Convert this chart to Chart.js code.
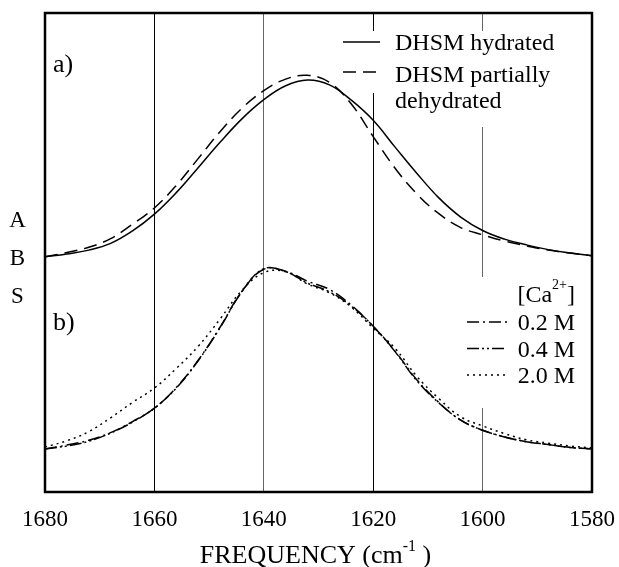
<!DOCTYPE html>
<html>
<head>
<meta charset="utf-8">
<script src="https://cdn.jsdelivr.net/npm/chart.js@4.4.1/dist/chart.umd.min.js"></script>
<style>
html, body { margin: 0; padding: 0; background: #fff; }
</style>
</head>
<body>
<canvas id="ir" width="619" height="567"></canvas>
<script>
// wavenumber samples (cm-1), every 4 cm-1
var freq = [1680, 1676, 1672, 1668, 1664, 1660, 1656, 1652, 1648, 1644, 1640, 1636, 1632,
            1628, 1624, 1620, 1616, 1612, 1608, 1604, 1600, 1596, 1592, 1588, 1584, 1580];

// a) amide I band, arbitrary absorbance units (0-100 over the plot height)
var hydrated   = [49.1, 49.7, 50.5, 51.9, 54.5, 58.0, 62.5, 67.7, 73.0, 77.9, 81.9, 84.8, 86.0,
                  85.0, 81.8, 77.6, 72.0, 66.5, 61.4, 57.4, 54.6, 52.8, 51.6, 50.6, 49.9, 49.3];
var dehydrated = [49.1, 50.0, 51.1, 52.9, 55.9, 59.3, 64.0, 69.6, 75.2, 80.1, 83.8, 86.2, 87.0,
                  85.5, 81.0, 74.2, 67.6, 62.2, 58.1, 55.2, 53.7, 52.4, 51.4, 50.5, 49.9, 49.3];

// b) with calcium
var ca02 = [9.0, 9.8, 10.8, 12.4, 14.7, 17.5, 21.8, 27.5, 34.4, 41.9, 46.5, 46.1, 44.0,
            42.3, 39.0, 34.6, 29.4, 23.4, 18.7, 15.0, 12.9, 11.5, 10.5, 9.9, 9.3, 9.0];
var ca04 = [9.0, 9.6, 10.6, 12.3, 14.6, 17.5, 21.7, 27.4, 34.3, 41.8, 46.6, 46.0, 43.6,
            41.8, 38.8, 34.6, 29.3, 23.2, 18.6, 15.0, 12.9, 11.5, 10.5, 9.9, 9.3, 9.0];
var ca20 = [9.4, 10.7, 12.6, 15.5, 18.7, 21.7, 25.8, 30.4, 36.1, 42.1, 45.8, 46.0, 43.4,
            41.6, 38.6, 34.2, 30.0, 24.1, 19.5, 15.7, 13.8, 12.2, 10.9, 10.2, 9.6, 9.2];

var xTicks = [1680, 1660, 1640, 1620, 1600, 1580];
var serif = "'Liberation Serif', 'Times New Roman', serif";

function pts(ys) {
  return freq.map(function (f, i) { return { x: f, y: ys[i] }; });
}
function curve(label, ys, dash) {
  return {
    label: label, data: pts(ys), borderColor: '#000', borderWidth: 1.5,
    borderDash: dash, pointRadius: 0, fill: false, tension: 0.4
  };
}

// draw text pieces in a row, some of them raised (superscripts)
function richText(ctx, parts, x, y, align) {
  var w = 0;
  parts.forEach(function (p) { ctx.font = p[1] + 'px ' + serif; w += ctx.measureText(p[0]).width; });
  var cx = align === 'center' ? x - w / 2 : (align === 'right' ? x - w : x);
  ctx.textAlign = 'left';
  parts.forEach(function (p) {
    ctx.font = p[1] + 'px ' + serif;
    ctx.fillText(p[0], cx, y + p[2]);
    cx += ctx.measureText(p[0]).width;
  });
}

function symbol(ctx, ds, x1, x2, y) {
  ctx.save();
  ctx.strokeStyle = '#000';
  ctx.lineWidth = 1.5;
  ctx.setLineDash(ds.borderDash || []);
  ctx.beginPath();
  ctx.moveTo(x1, y);
  ctx.lineTo(x2, y);
  ctx.stroke();
  ctx.restore();
}

var decor = {
  id: 'decor',
  beforeDatasetsDraw: function (chart) {
    var ctx = chart.ctx, ds = chart.data.datasets;
    ctx.save();
    // legend backgrounds hide the grid lines behind them
    ctx.fillStyle = '#fff';
    ctx.fillRect(338, 31, 48, 62);
    ctx.fillRect(388, 31, 178, 96);
    ctx.fillRect(460, 277, 120, 131);

    ctx.fillStyle = '#000';
    ctx.textBaseline = 'alphabetic';

    // legend a)
    symbol(ctx, ds[0], 343, 380, 42);
    symbol(ctx, ds[1], 343, 380, 72);
    ctx.font = '24px ' + serif;
    ctx.textAlign = 'left';
    ctx.fillText('DHSM hydrated', 395, 50);
    ctx.fillText('DHSM partially', 395, 82);
    ctx.fillText('dehydrated', 395, 108);

    // legend b)
    richText(ctx, [['[Ca', 24, 0], ['2+', 14, -13], [']', 24, 0]], 575, 302, 'right');
    [2, 3, 4].forEach(function (k, i) {
      symbol(ctx, ds[k], 467, 507, 322 + i * 26.5);
      ctx.font = '24px ' + serif;
      ctx.textAlign = 'right';
      ctx.fillText(ds[k].label, 575, 330 + i * 26.5);
    });

    // panel labels
    ctx.font = '26px ' + serif;
    ctx.textAlign = 'left';
    ctx.fillText('a)', 53, 72);
    ctx.fillText('b)', 53, 330);
    ctx.restore();
  },
  afterDraw: function (chart) {
    var ctx = chart.ctx, ca = chart.chartArea;
    ctx.save();
    ctx.strokeStyle = '#000';
    ctx.lineWidth = 2.5;
    ctx.strokeRect(ca.left, ca.top, ca.right - ca.left, ca.bottom - ca.top);

    ctx.fillStyle = '#000';
    ctx.textBaseline = 'alphabetic';
    ctx.font = '23px ' + serif;
    ctx.textAlign = 'center';
    ['A', 'B', 'S'].forEach(function (c, i) { ctx.fillText(c, 17.5, 227 + i * 38); });

    richText(ctx, [['FREQUENCY (cm', 26, 0], ['-1', 16, -12], [' )', 26, 0]],
             (ca.left + ca.right) / 2 - 3, 563, 'center');
    ctx.restore();
  }
};

new Chart(document.getElementById('ir'), {
  type: 'line',
  data: {
    datasets: [
      curve('DHSM hydrated', hydrated, []),
      curve('DHSM partially dehydrated', dehydrated, [13, 7]),
      curve('0.2 M', ca02, [12, 4, 2, 4]),
      curve('0.4 M', ca04, [12, 3, 2, 3, 2, 3]),
      curve('2.0 M', ca20, [2, 4])
    ]
  },
  options: {
    responsive: false,
    animation: false,
    layout: { padding: { left: 45, right: 27, top: 13, bottom: 33.4 } },
    plugins: { legend: { display: false }, tooltip: { enabled: false } },
    scales: {
      x: {
        type: 'linear', reverse: true, min: 1580, max: 1680,
        afterBuildTicks: function (axis) { axis.ticks = xTicks.map(function (v) { return { value: v }; }); },
        ticks: {
          autoSkip: false, maxRotation: 0, padding: 0, color: '#000',
          font: { family: serif, size: 23 },
          callback: function (v) { return String(v); }
        },
        grid: {
          drawTicks: true,
          tickLength: 14,
          tickColor: 'rgba(0,0,0,0)',
          lineWidth: 1,
          color: function (c) {
            var v = c.tick && c.tick.value;
            return (v === 1640 || v === 1600) ? '#666' : '#000';
          }
        },
        border: { display: false }
      },
      y: { display: false, min: 0, max: 100 }
    }
  },
  plugins: [decor]
});
</script>
</body>
</html>
